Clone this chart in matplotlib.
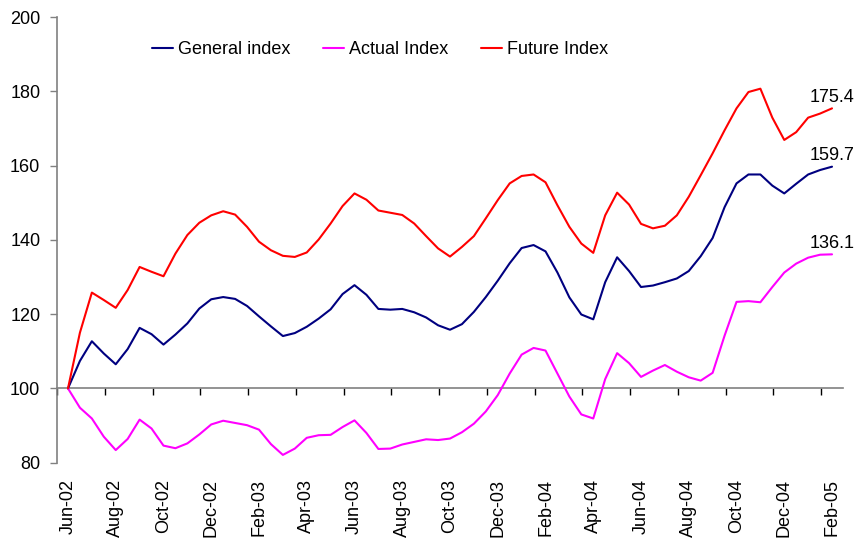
import numpy as np
import matplotlib
matplotlib.use('Agg')
import matplotlib.pyplot as plt

plt.rcParams['font.family'] = ['Liberation Sans', 'DejaVu Sans']

# tick labels, every 2 months
month_labels = ['Jun-02', 'Aug-02', 'Oct-02', 'Dec-02', 'Feb-03', 'Apr-03',
                'Jun-03', 'Aug-03', 'Oct-03', 'Dec-03', 'Feb-04', 'Apr-04',
                'Jun-04', 'Aug-04', 'Oct-04', 'Dec-04', 'Feb-05']

# values read at half-month steps, Jun-02 .. Feb-05
general = [100, 107.4, 112.7, 109.4, 106.5, 110.6, 116.3, 114.6, 111.8, 114.5,
           117.5, 121.5, 124.0, 124.6, 124.1, 122.2, 119.4, 116.7, 114.1, 114.9,
           116.6, 118.8, 121.3, 125.4, 127.8, 125.2, 121.4, 121.2, 121.4, 120.5,
           119.1, 117.0, 115.8, 117.3, 120.6, 124.6, 129.0, 133.7, 137.8, 138.6,
           136.9, 131.2, 124.5, 119.9, 118.6, 128.6, 135.3, 131.6, 127.3, 127.7,
           128.6, 129.6, 131.6, 135.6, 140.5, 148.8, 155.2, 157.6, 157.6, 154.6,
           152.5, 155.1, 157.6, 158.8, 159.7]

actual = [100, 94.8, 91.9, 87.0, 83.4, 86.4, 91.6, 89.2, 84.6, 83.9,
          85.2, 87.6, 90.3, 91.3, 90.7, 90.1, 88.9, 85.0, 82.1, 83.8,
          86.7, 87.4, 87.5, 89.6, 91.4, 88.0, 83.7, 83.8, 84.9, 85.6,
          86.3, 86.1, 86.5, 88.2, 90.5, 93.8, 98.2, 104.0, 109.1, 110.9,
          110.2, 104.0, 97.8, 93.0, 91.9, 102.5, 109.5, 106.8, 103.1, 104.8,
          106.3, 104.5, 103.0, 102.1, 104.2, 114.2, 123.3, 123.5, 123.2, 127.3,
          131.2, 133.6, 135.2, 136.0, 136.1]

future = [100, 115.0, 125.8, 123.8, 121.7, 126.5, 132.7, 131.4, 130.2, 136.3,
          141.3, 144.6, 146.6, 147.7, 146.8, 143.5, 139.5, 137.2, 135.7, 135.4,
          136.6, 140.1, 144.4, 149.1, 152.5, 150.8, 147.9, 147.3, 146.7, 144.4,
          141.0, 137.7, 135.5, 138.1, 141.0, 145.8, 150.7, 155.2, 157.2, 157.6,
          155.5, 149.3, 143.5, 139.0, 136.5, 146.6, 152.7, 149.5, 144.3, 143.1,
          143.8, 146.6, 151.6, 157.4, 163.3, 169.5, 175.4, 179.8, 180.7, 172.9,
          166.9, 169.0, 172.9, 174.0, 175.4]

x = np.arange(len(general)) / 2.0  # months since Jun-02

fig = plt.figure(figsize=(8.58, 5.46), dpi=100)
ax = fig.add_axes([57 / 858, 1 - 462.7 / 546, 786 / 858, 445.7 / 546])

line_kw = dict(lw=1.5, solid_joinstyle='round', solid_capstyle='round')
ax.plot(x, general, color='#000080', label='General index', **line_kw)
ax.plot(x, actual, color='#FF00FF', label='Actual Index', **line_kw)
ax.plot(x, future, color='#FF0000', label='Future Index', **line_kw)

for s in [general, actual, future]:
    ax.annotate(f'{s[-1]:.1f}', (x[-1], s[-1]), xytext=(0, 2),
                textcoords='offset points', ha='center', va='bottom',
                fontsize=13, annotation_clip=False)

ax.set_ylim(80, 200)
ax.set_xlim(-0.46, 32.46)
ax.set_yticks(range(80, 201, 20))
ax.set_xticks(np.arange(0, 33, 2))
ax.set_xticklabels(month_labels, rotation=90)
ax.tick_params(axis='x', length=0, pad=12, labelsize=13)
ax.tick_params(axis='y', direction='out', length=5, width=1, color='#808080',
               pad=7, labelsize=13)
for side in ['top', 'right', 'bottom']:
    ax.spines[side].set_visible(False)
ax.spines['left'].set_color('#808080')
ax.spines['left'].set_linewidth(1.2)

# category axis crosses at 100
sec = ax.secondary_xaxis((100 - 80) / (200 - 80))
sec.set_xticks(np.arange(-0.46, 32, 2))
sec.tick_params(direction='out', length=5, width=1, color='black',
                labelbottom=False, labeltop=False)
sec.spines['bottom'].set_color('#808080')
sec.spines['bottom'].set_linewidth(1.2)

ax.legend(loc='center left', bbox_to_anchor=(0.121, 0.926), ncol=3,
          frameon=False, fontsize=13, handlelength=1.15, handletextpad=0.3,
          columnspacing=1.8, borderpad=0, borderaxespad=0)

fig.savefig('out.png', dpi=100)
